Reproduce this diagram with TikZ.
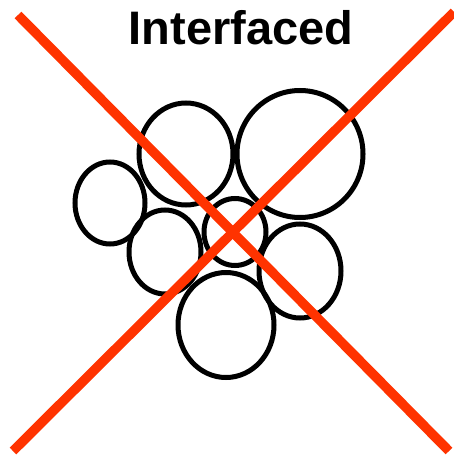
\documentclass[tikz,border=0pt]{standalone}
\usepackage{fontspec}
\setmainfont{Liberation Sans}
\usetikzlibrary{shapes.geometric}
\definecolor{crossred}{RGB}{255,51,0}
\begin{document}
\begin{tikzpicture}[x=1pt,y=-1pt]

\tikzstyle{grain}=[ellipse,draw,line width=5pt,inner sep=0pt]
\tikzstyle{cross}=[crossred,line width=9.5pt]

\useasboundingbox (0,0) rectangle (453,457);

\node[anchor=base,inner sep=0pt,font=\bfseries\fontsize{47}{47}\selectfont] (title) at (241,45) {Interfaced};

\node[grain,minimum width=70pt,minimum height=82pt]  (g1) at (110,203) {};
\node[grain,minimum width=94pt,minimum height=102pt] (g2) at (186,154) {};
\node[grain,minimum width=126pt,minimum height=127pt] (g3) at (300,154) {};
\node[grain,minimum width=72pt,minimum height=84pt]  (g4) at (165,252) {};
\node[grain,minimum width=62pt,minimum height=67pt]  (g5) at (235,232) {};
\node[grain,minimum width=82pt,minimum height=94pt]  (g6) at (300,271) {};
\node[grain,minimum width=96pt,minimum height=105pt] (g7) at (226,325) {};

\coordinate (x1) at (18,15) ;
\coordinate (x2) at (449,451) ;
\coordinate (x3) at (13,451) ;
\coordinate (x4) at (454,12) ;

\draw[cross] (x1) -- (x2);
\draw[cross] (x3) -- (x4);

\end{tikzpicture}
\end{document}
